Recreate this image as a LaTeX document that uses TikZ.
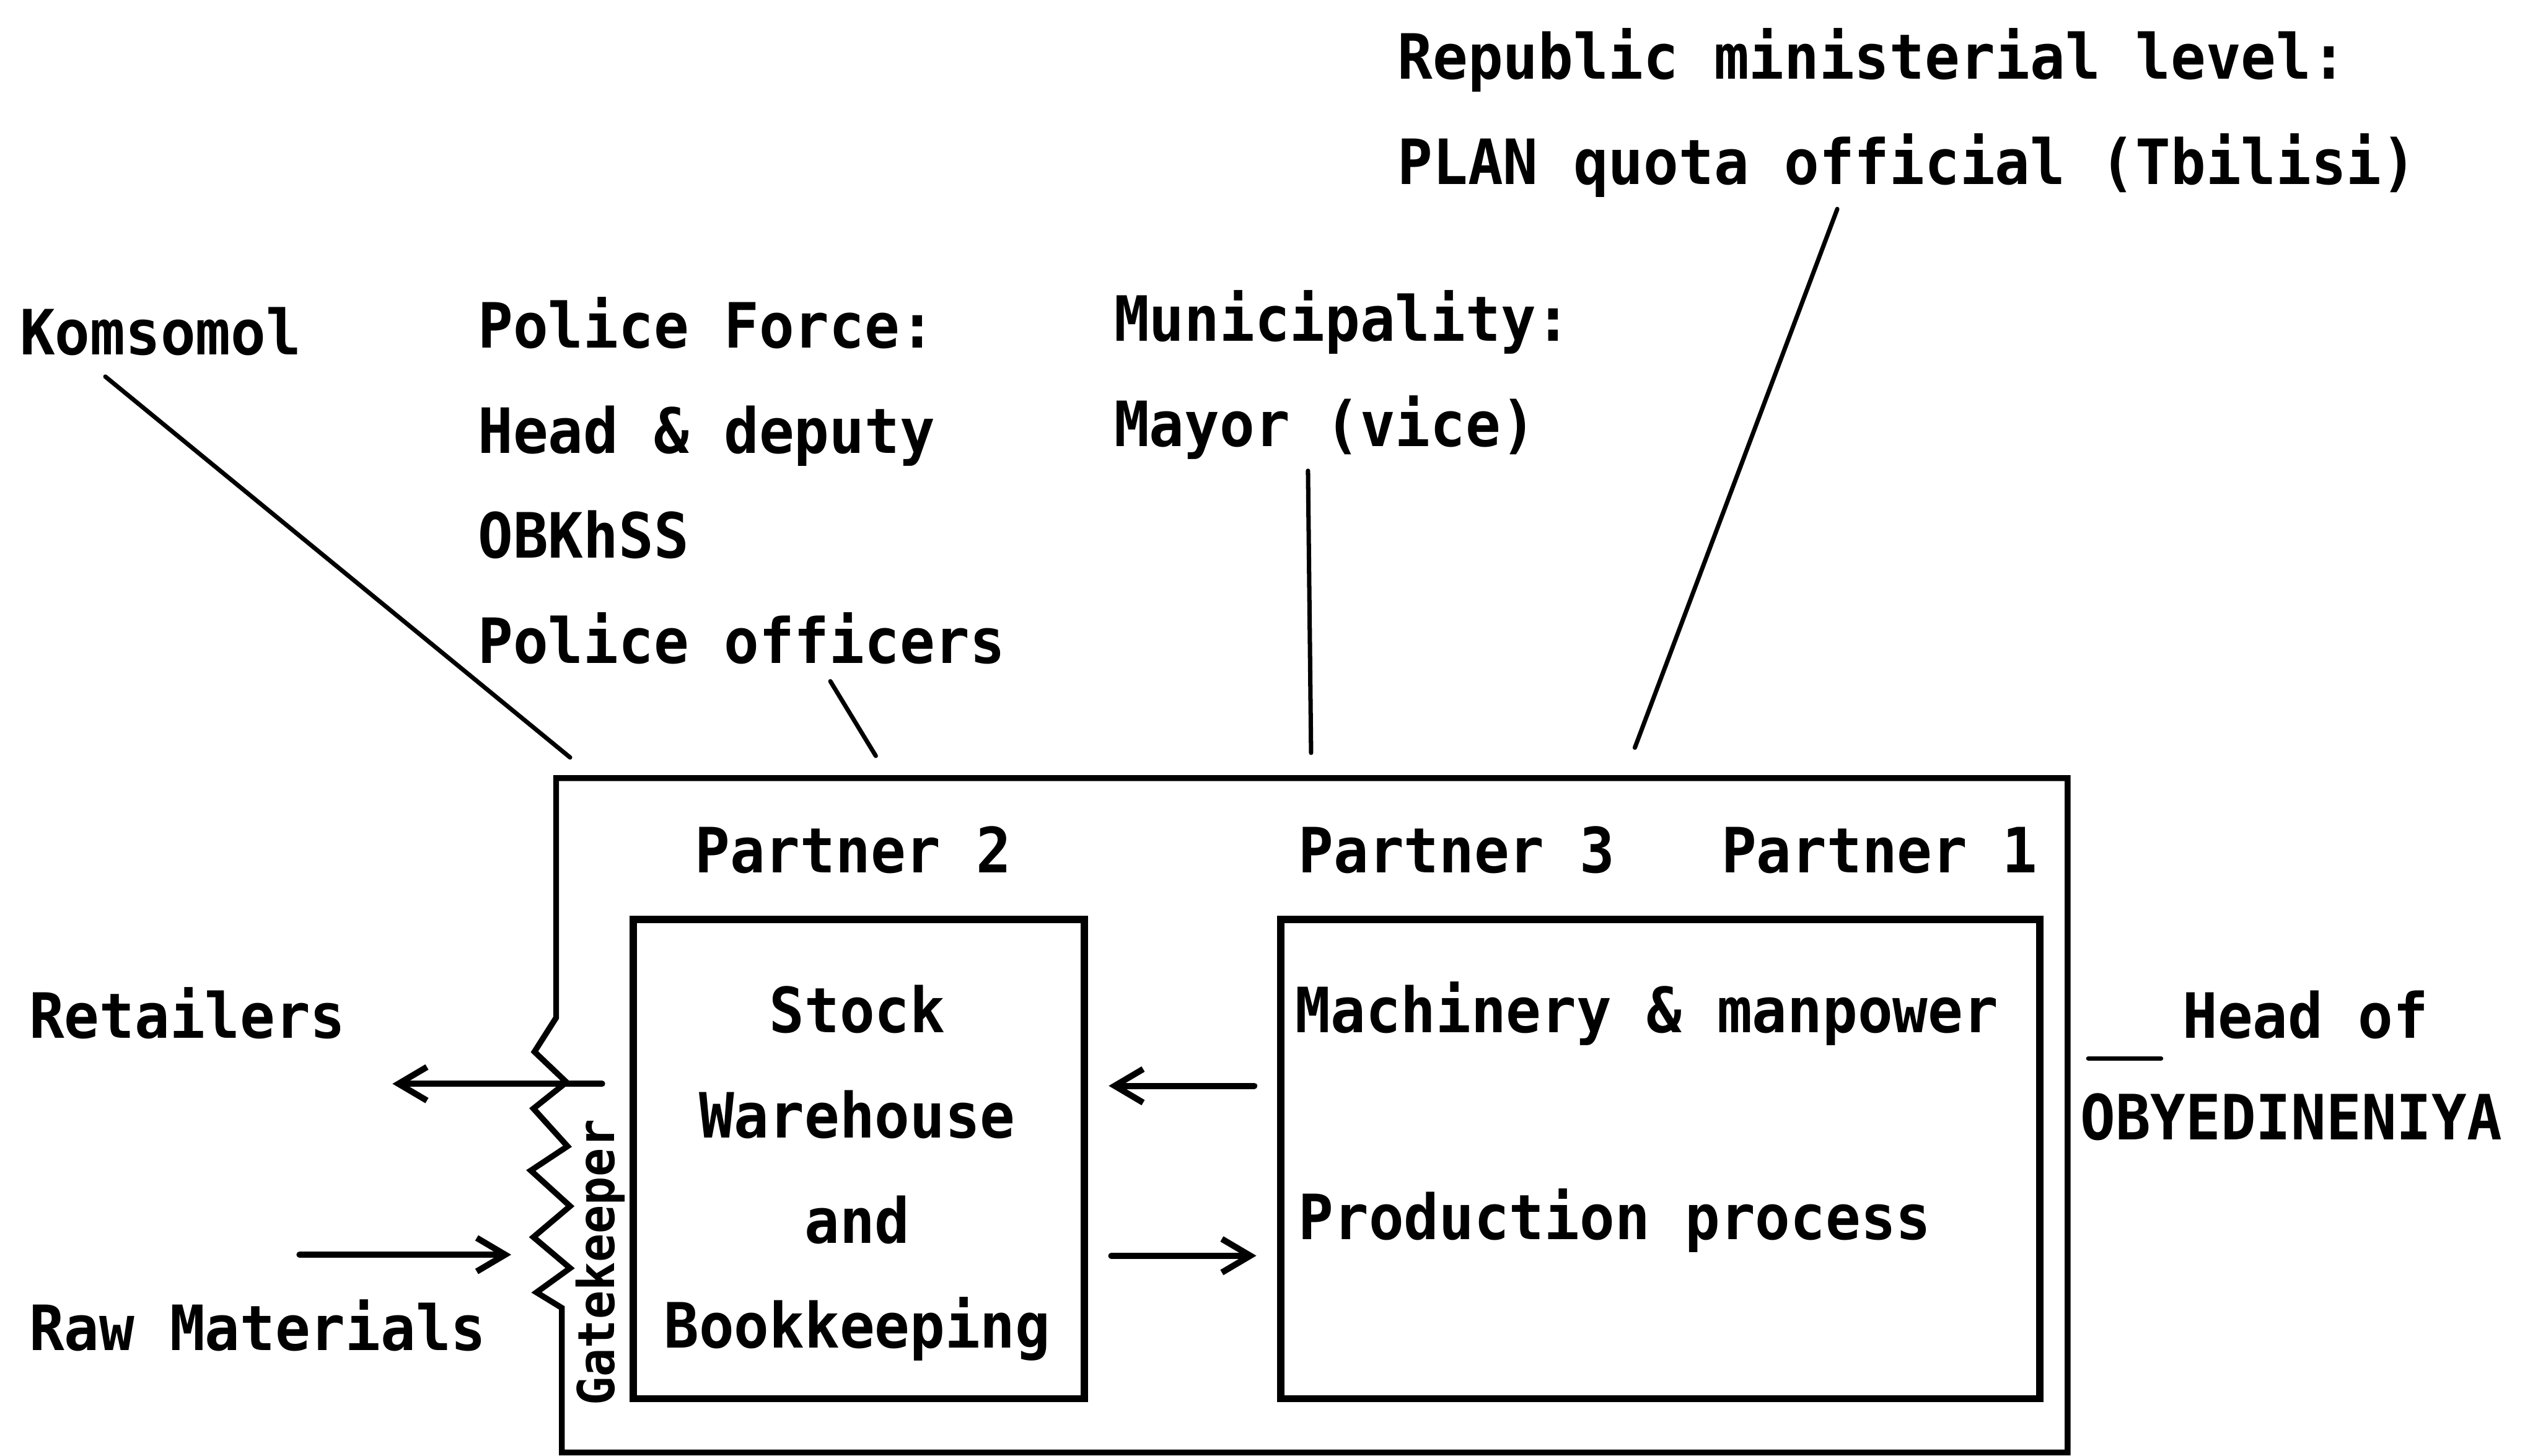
\documentclass[tikz,border=0pt]{standalone}
\usepackage{fontspec}
\usetikzlibrary{arrows.meta}
\newfontfamily\typew[FakeStretch=0.935]{DejaVu Sans Mono}
\newcommand{\labfont}{\typew\bfseries\fontsize{34.4pt}{58pt}\selectfont}
\newcommand{\gatefont}{\typew\bfseries\fontsize{28pt}{32pt}\selectfont}

\begin{document}
\begin{tikzpicture}[>={Straight Barb[length=0.55cm,width=0.65cm]},
    lab/.style={font=\labfont, inner sep=0pt, anchor=base west, align=left},
    frame/.style={line width=3.2pt, line join=miter},
    partbox/.style={draw, line width=4pt, line join=miter, minimum height=9.28cm},
    link/.style={line width=2.4pt, line cap=round},
    flow/.style={->, line width=3.4pt, line cap=round}]
  \useasboundingbox (0,0) rectangle (49.15,28.19);
  % outside bodies (base = last line)
  \node[lab] (komsomol) at (0.38,21.32) {Komsomol};
  \node[lab] (police) at (9.25,15.34) {Police Force:\\Head \& deputy\\OBKhSS\\Police officers};
  \node[lab] (municipality) at (21.57,19.54) {Municipality:\\Mayor (vice)};
  \node[lab] (republic) at (27.06,24.62) {Republic ministerial level:\\PLAN quota official (Tbilisi)};
  % the firm with its gatekeeper side
  \draw[frame] (10.77,13.12) -- (10.77,8.48) -- (10.35,7.82) -- (10.97,7.23) -- (10.33,6.72)
    -- (10.99,5.99) -- (10.28,5.52) -- (11.04,4.83) -- (10.33,4.23) -- (11.04,3.63)
    -- (10.39,3.16) -- (10.88,2.86) -- (10.88,0.06) -- (40.04,0.06) -- (40.04,13.12) -- cycle;
  \coordinate (kom-end) at (11.04,13.52);
  \coordinate (pol-end) at (16.96,13.55);
  \coordinate (mun-end) at (25.39,13.61);
  \coordinate (rep-end) at (31.66,13.71);
  \draw[link] (komsomol.south west) ++(1.66,-0.40) -- (kom-end);
  \draw[link] (police.south west) ++(6.83,-0.32) -- (pol-end);
  \draw[link] (municipality.south west) ++(3.76,-0.21) -- (mun-end);
  \draw[link] (republic.south west) ++(8.52,-0.22) -- (rep-end);
  \node[lab, anchor=base] (partner2) at (16.52,11.29) {Partner 2};
  \node[lab] (partner3) at (25.14,11.29) {Partner 3};
  \node[lab] (partner1) at (33.33,11.29) {Partner 1};
  \node[partbox, minimum width=8.74cm] (stockbox) at (16.63,5.74) {};
  \node[partbox, minimum width=14.70cm] (prodbox) at (32.15,5.74) {};
  \node[lab, anchor=base, align=center] (stocktxt) at (16.60,2.08) {Stock\\Warehouse\\and\\Bookkeeping};
  \node[lab] (machinery) at (25.08,8.19) {Machinery \& manpower};
  \node[lab] (production) at (25.14,4.18) {Production process};
  \draw[flow] ([shift={(-0.44,1.42)}]prodbox.west) -- ([shift={(0.40,1.42)}]stockbox.east);
  \draw[flow] ([shift={(0.45,-1.87)}]stockbox.east) -- ([shift={(-0.40,-1.87)}]prodbox.west);
  \node[font=\gatefont, rotate=90, inner sep=0pt] (gatekeeper) at (11.62,3.74) {Gatekeeper};
  % goods in and out
  \node[lab] (retailers) at (0.56,8.09) {Retailers};
  \node[lab] (rawmat) at (0.56,2.04) {Raw Materials};
  \coordinate (ret-start) at (11.66,7.20);
  \coordinate (ret-tip) at (7.60,7.20);
  \coordinate (raw-start) at (5.80,3.89);
  \coordinate (raw-tip) at (9.90,3.89);
  \draw[flow] (ret-start) -- (ret-tip);
  \draw[flow] (raw-start) -- (raw-tip);
  % head of the association
  \node[lab] (headof) at (42.26,8.09) {Head of};
  \node[lab] (obyed) at (40.28,6.12) {OBYEDINENIYA};
  \coordinate (head-mark) at (40.44,7.69);
  \draw[link] (head-mark) -- ++(1.41,0);
\end{tikzpicture}
\end{document}
